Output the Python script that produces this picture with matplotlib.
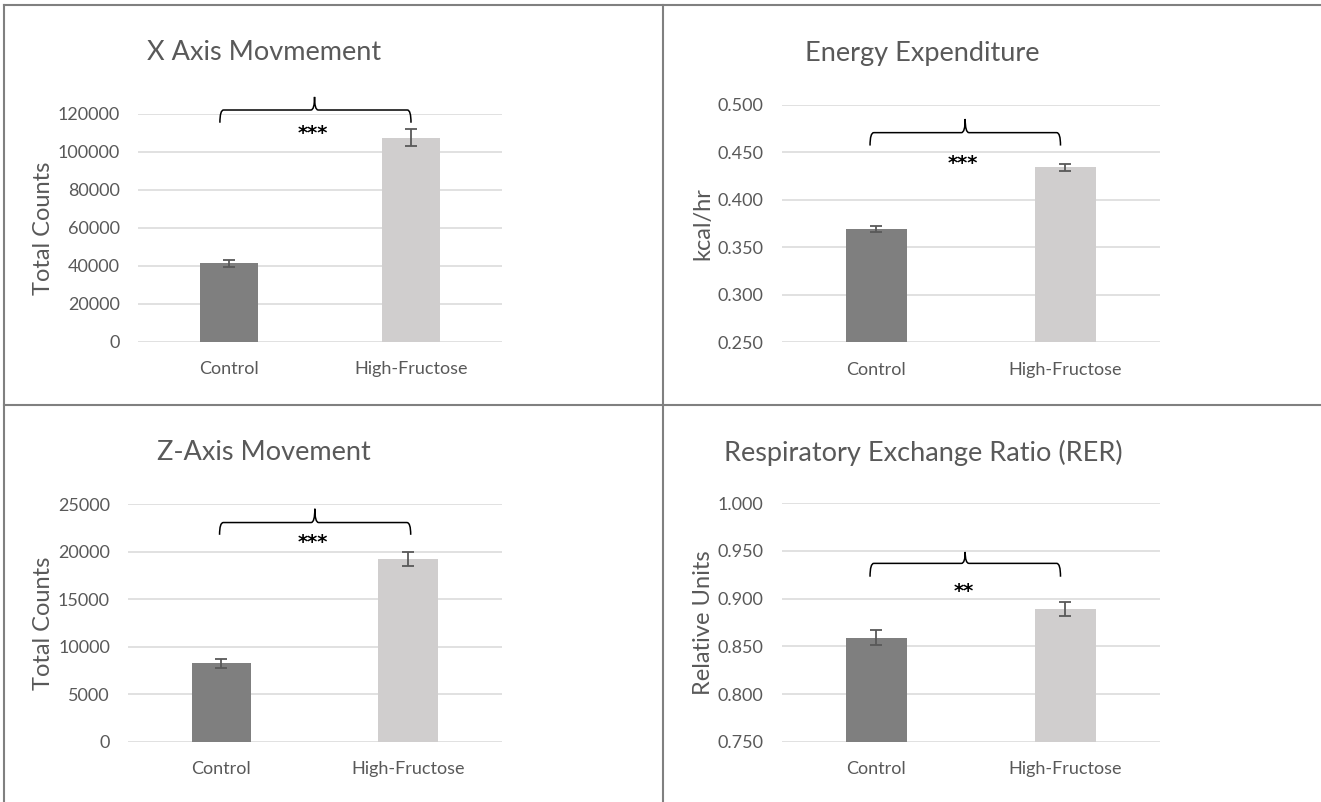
import matplotlib.pyplot as plt
from matplotlib.path import Path
from matplotlib.patches import PathPatch

plt.rcParams['font.family'] = ['Lato', 'DejaVu Sans']

groups = ["Control", "High-Fructose"]

# panel data
x_means = [41500, 107500]
x_err = [1900, 4500]
ee_means = [0.369, 0.434]
ee_err = [0.003, 0.004]
z_means = [8250, 19200]
z_err = [470, 700]
rer_means = [0.859, 0.889]
rer_err = [0.008, 0.007]

titles = ["X Axis Movmement", "Energy Expenditure", "Z-Axis Movement",
          "Respiratory Exchange Ratio (RER)"]
ylabels = ["Total Counts", "kcal/hr", "Total Counts", "Relative Units"]
yticks = [[0, 20000, 40000, 60000, 80000, 100000, 120000],
          [0.25, 0.30, 0.35, 0.40, 0.45, 0.50],
          [0, 5000, 10000, 15000, 20000, 25000],
          [0.75, 0.80, 0.85, 0.90, 0.95, 1.00]]
tick_fmt = ["{:.0f}", "{:.3f}", "{:.0f}", "{:.3f}"]
stars = ["***", "***", "***", "**"]

# brace: x_left, x_right, x_mid, y_tip, y_bar, y_peak ; star y
braces = [(-0.05, 1.0, 0.47, 115400, 122100, 129000, 109800),
          (-0.033, 0.974, 0.47, 0.457, 0.4706, 0.485, 0.4385),
          (-0.01, 1.013, 0.50, 21760, 23050, 24500, 20900),
          (-0.033, 0.974, 0.47, 0.923, 0.937, 0.949, 0.9075)]

W, H = 1321, 802
# axes boxes in pixels: left, top, right, bottom
boxes = [(138, 114, 502, 342),
         (781.7, 104.7, 1160, 342.3),
         (128, 504, 501.7, 741.7),
         (781.7, 503.3, 1160, 741.7)]
title_pos = [(264, 53), (922, 53), (264, 453), (923, 453)]
ylabel_x = [43, 703, 43, 703]

means = [x_means, ee_means, z_means, rer_means]
errs = [x_err, ee_err, z_err, rer_err]

txt = "#595959"
bar_colors = ["#7F7F7F", "#D0CECE"]

fig = plt.figure(figsize=(W / 100, H / 100), dpi=100)

for i in range(4):
    l, t, r, b = boxes[i]
    ax = fig.add_axes([l / W, 1 - b / H, (r - l) / W, (b - t) / H])
    ax.bar([0, 1], means[i], width=0.32, color=bar_colors, zorder=2)
    ax.errorbar([0, 1], means[i], yerr=errs[i], fmt="none", ecolor=txt,
                elinewidth=1.3, capsize=4, capthick=1.3, zorder=3)
    ax.set_xlim(-0.5, 1.5)
    ax.set_ylim(yticks[i][0], yticks[i][-1])
    ax.set_yticks(yticks[i])
    ax.set_yticklabels([tick_fmt[i].format(v) for v in yticks[i]])
    ax.set_xticks([0, 1])
    ax.set_xticklabels(groups)
    ax.tick_params(length=0, labelsize=13, labelcolor=txt)
    ax.tick_params(axis="y", pad=13)
    ax.tick_params(axis="x", pad=14)
    for s in ax.spines.values():
        s.set_visible(False)
    ax.grid(axis="y", color="#D9D9D9", lw=1.1, zorder=0)
    ax.set_axisbelow(True)
    ax.set_ylabel(ylabels[i], fontsize=17, color=txt)
    ax.yaxis.set_label_coords((ylabel_x[i] - l) / (r - l), 0.5)
    ax.yaxis.label.set_verticalalignment("center")

    # significance brace
    x0, x1, xm, yt, yb, yp, ys = braces[i]
    dx = 0.02
    verts = [(x0, yt), (x0, yb), (x0 + dx, yb),
             (xm - dx, yb), (xm, yb), (xm, yp),
             (xm, yb), (xm + dx, yb),
             (x1 - dx, yb), (x1, yb), (x1, yt)]
    codes = [Path.MOVETO, Path.CURVE3, Path.CURVE3,
             Path.LINETO, Path.CURVE3, Path.CURVE3,
             Path.CURVE3, Path.CURVE3,
             Path.LINETO, Path.CURVE3, Path.CURVE3]
    ax.add_patch(PathPatch(Path(verts, codes), fill=False, ec="black",
                           lw=1.1, clip_on=False, zorder=4))
    ax.text(xm - 0.01, ys, stars[i], ha="center", va="center",
            fontsize=14, color="black", family="DejaVu Sans",
            fontweight="bold", zorder=4)

    tx, ty = title_pos[i]
    fig.text(tx / W, 1 - ty / H, titles[i], ha="center", va="center",
             fontsize=19.5, color=txt)

# panel borders
border = dict(color="#808080", lw=1.5, transform=fig.transFigure)
fig.add_artist(plt.Line2D([4 / W, 1], [1 - 5 / H, 1 - 5 / H], **border))
fig.add_artist(plt.Line2D([4 / W, 4 / W], [0, 1 - 5 / H], **border))
fig.add_artist(plt.Line2D([663 / W, 663 / W], [0, 1 - 5 / H], **border))
fig.add_artist(plt.Line2D([4 / W, 1], [1 - 405 / H, 1 - 405 / H], **border))

fig.savefig("out.png", dpi=100)
